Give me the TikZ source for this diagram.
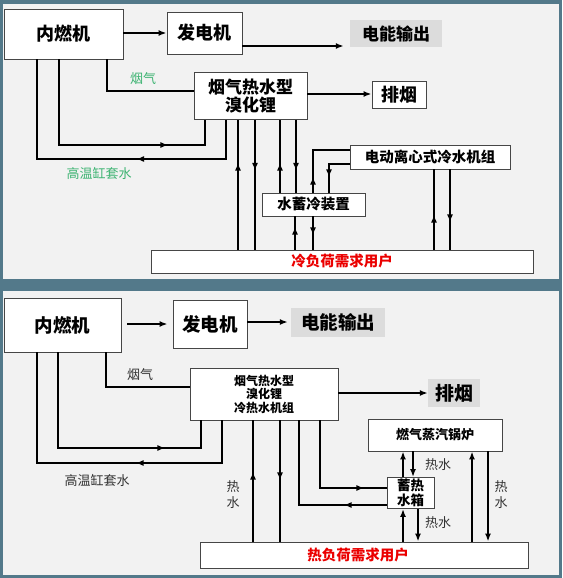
\documentclass[tikz,border=0pt]{standalone}
\usepackage{fontspec}
\setmainfont{Noto Sans CJK SC}
\usetikzlibrary{arrows.meta,decorations.markings}
\definecolor{frame}{RGB}{83,121,138}
\definecolor{panel}{RGB}{242,242,242}
\definecolor{lbl}{RGB}{220,220,220}
\definecolor{grn}{RGB}{60,179,113}
\definecolor{rd}{RGB}{235,0,0}
\definecolor{bord}{RGB}{70,70,70}
\definecolor{dk}{RGB}{50,50,50}
\newcommand\sz[1]{\fontsize{#1}{#1}\selectfont}
\begin{document}
\begin{tikzpicture}[x=1pt,y=-1pt,
  box/.style={draw=bord,line width=0.9pt,fill=white,inner sep=0pt},
  gbox/.style={fill=lbl,inner sep=0pt},
  ln/.style={line width=1.8pt,black},
  ea/.style={ln,-{Latex[length=8pt,width=6pt]}},
  ma/.style={ln,postaction={decorate},decoration={markings,mark=at position #1 with {\arrow{Latex[length=8pt,width=6pt]}}}},
  lab/.style={inner sep=0pt,text=dk}
]
\useasboundingbox (0,0) rectangle (562,578);
\fill[frame] (0,0) rectangle (562,578);
\fill[panel] (3,4) rectangle (559,279);
\fill[panel] (3,291) rectangle (559,575);

% ---------- panel 1 ----------
\node[box,minimum width=119pt,minimum height=50pt,font=\bfseries\sz{18}] (ice1) at (63.5,34) {内燃机};
\node[box,minimum width=75pt,minimum height=42pt,font=\bfseries\sz{18}] (gen1) at (204.5,33) {发电机};
\node[gbox,minimum width=92pt,minimum height=27pt,font=\bfseries\sz{17}] (out1) at (396,33.5) {电能输出};
\node[box,minimum width=113pt,minimum height=47pt,align=center,font=\bfseries\sz{17}] (lib1) at (250.5,96) {烟气热水型\\[1pt]溴化锂};
\node[box,minimum width=54pt,minimum height=27pt,font=\bfseries\sz{18}] (exh1) at (399,94.5) {排烟};
\node[box,minimum width=160pt,minimum height=24pt,font=\bfseries\sz{14.5}] (chl1) at (430,157) {电动离心式冷水机组};
\node[box,minimum width=103pt,minimum height=23pt,font=\bfseries\sz{14.5}] (sto1) at (313.5,204.5) {水蓄冷装置};
\node[box,minimum width=382pt,minimum height=23pt,text=rd,font=\bfseries\sz{14.5}] (usr1) at (342,261.5) {冷负荷需求用户};
\node[inner sep=0pt,text=grn,font=\sz{13}] (lg1) at (143,79) {烟气};
\node[inner sep=0pt,text=grn,font=\sz{13}] (lj1) at (99,173) {高温缸套水};

\draw[ea] (ice1.east |- 0,33) -- (gen1.west |- 0,33);
\draw[ea,shorten >=6pt] (gen1.east |- 0,46) -- (out1.west |- 0,46);
\draw[ln] (ice1.south -| 107,0) |- (lib1.west |- 0,91);
\draw[ea] (lib1.east |- 0,94) -- (exh1.west |- 0,94);
\draw[ma=195pt] (ice1.south -| 59,0) |- (205,145) -- (lib1.south -| 205,0);
\draw[ma=129pt] (lib1.south -| 226,0) |- (37,159) -- (ice1.south -| 37,0);
\draw[ma=87pt] (usr1.north -| 238,0) -- (lib1.south -| 238,0);
\draw[ma=51pt] (lib1.south -| 255,0) -- (usr1.north -| 255,0);
\draw[ma=30pt] (sto1.north -| 280,0) -- (lib1.south -| 280,0);
\draw[ma=51pt] (lib1.south -| 296,0) -- (sto1.north -| 296,0);
\draw[ma=23pt] (usr1.north -| 295,0) -- (sto1.south -| 295,0);
\draw[ma=19pt] (sto1.south -| 313,0) -- (usr1.north -| 313,0);
\draw[ma=16pt] (sto1.north -| 313,0) |- (chl1.west |- 0,150);
\draw[ma=34pt] (chl1.west |- 0,164) -| (sto1.north -| 329,0);
\draw[ma=35pt] (usr1.north -| 434,0) -- (chl1.south -| 434,0);
\draw[ma=53pt] (chl1.south -| 450,0) -- (usr1.north -| 450,0);

% ---------- panel 2 ----------
\node[box,minimum width=117pt,minimum height=54pt,font=\bfseries\sz{18.5}] (ice2) at (62.5,325) {内燃机};
\node[box,minimum width=74pt,minimum height=48pt,font=\bfseries\sz{18.5}] (gen2) at (210,324) {发电机};
\node[gbox,minimum width=94pt,minimum height=29pt,font=\bfseries\sz{18.5}] (out2) at (338,322.5) {电能输出};
\node[box,minimum width=148pt,minimum height=52pt,align=center,font=\bfseries\sz{12}] (lib2) at (264,394) {烟气热水型\\[1.5pt]溴化锂\\[1.5pt]冷热水机组};
\node[gbox,minimum width=52pt,minimum height=28pt,font=\bfseries\sz{19}] (exh2) at (454,393) {排烟};
\node[box,minimum width=134pt,minimum height=32pt,font=\bfseries\sz{13}] (blr2) at (435,435) {燃气蒸汽锅炉};
\node[box,minimum width=47pt,minimum height=31pt,align=center,font=\bfseries\sz{13.5}] (tank2) at (410.5,493) {蓄热\\[1pt]水箱};
\node[box,minimum width=328pt,minimum height=26pt,text=rd,font=\bfseries\sz{14.5}] (usr2) at (364,555) {\hspace*{-12pt}热负荷需求用户};
\node[lab,font=\sz{13}] (lg2) at (140,375) {烟气};
\node[lab,font=\sz{13}] (lj2) at (97,480) {高温缸套水};
\node[lab,align=center,font=\sz{13}] (lh1) at (233,495) {热\\[3pt]水};
\node[lab,font=\sz{13}] (lh2) at (438,465) {热水};
\node[lab,font=\sz{13}] (lh3) at (438,523) {热水};
\node[lab,align=center,font=\sz{13}] (lh4) at (501,495) {热\\[3pt]水};

\draw[ea,shorten <=6pt,shorten >=5pt] (ice2.east |- 0,324) -- (gen2.west |- 0,324);
\draw[ea,shorten >=3pt] (gen2.east |- 0,322) -- (out2.west |- 0,322);
\draw[ln] (ice2.south -| 106,0) |- (lib2.west |- 0,387);
\draw[ea] (lib2.east |- 0,393) -- (exh2.west |- 0,393);
\draw[ma=203pt] (ice2.south -| 58,0) |- (201,448) -- (lib2.south -| 201,0);
\draw[ma=129pt] (lib2.south -| 222,0) |- (37,463) -- (ice2.south -| 37,0);
\draw[ma=70pt] (usr2.north -| 253,0) -- (lib2.south -| 253,0);
\draw[ma=60pt] (lib2.south -| 280,0) -- (usr2.north -| 280,0);
\draw[ma=112pt] (lib2.south -| 320,0) |- (tank2.west |- 0,488);
\draw[ma=43pt] (tank2.west |- 0,505) -| (lib2.south -| 299,0);
\draw[ea] (tank2.north -| 403,0) -- (blr2.south -| 403,0);
\draw[ea] (blr2.south -| 413,0) -- (tank2.north -| 413,0);
\draw[ea] (usr2.north -| 403,0) -- (tank2.south -| 403,0);
\draw[ea] (tank2.south -| 418,0) -- (usr2.north -| 418,0);
\draw[ea] (usr2.north -| 472,0) -- (blr2.south -| 472,0);
\draw[ea] (blr2.south -| 488,0) -- (usr2.north -| 488,0);
\end{tikzpicture}
\end{document}
